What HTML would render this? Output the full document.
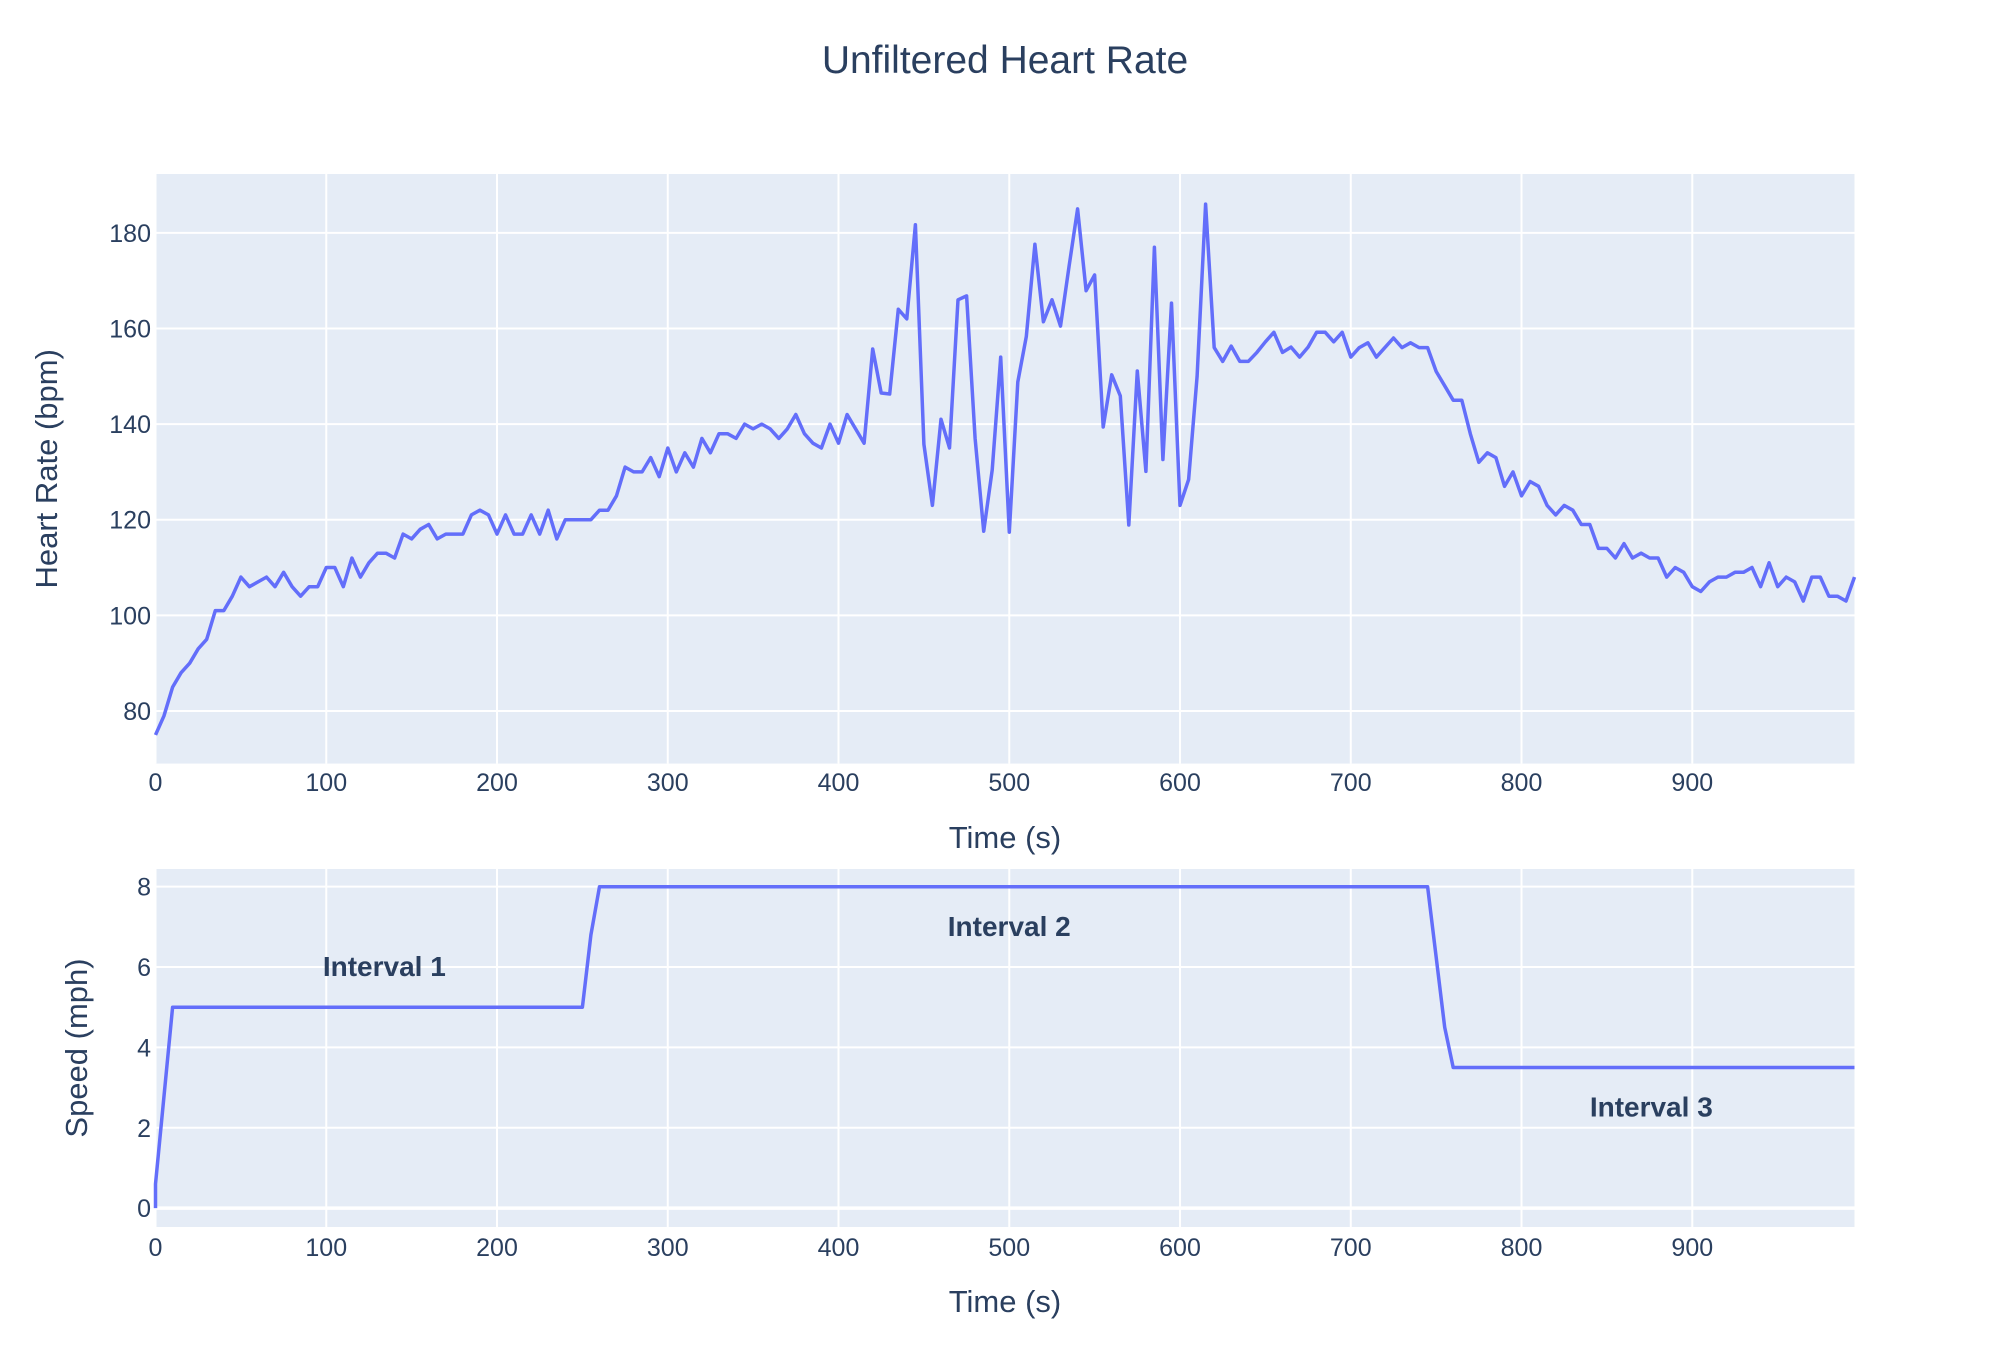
<!DOCTYPE html>
<html><head><meta charset="utf-8"><title>Unfiltered Heart Rate</title>
<style>
html,body{margin:0;padding:0;background:#fff;}
svg{display:block;font-family:"Liberation Sans",sans-serif;}
</style></head>
<body>
<svg id="chart" width="2014" height="1361" viewBox="0 0 2014 1361" xmlns="http://www.w3.org/2000/svg">
<rect x="0" y="0" width="2014" height="1361" fill="#fff"/>
<text x="1005" y="73" text-anchor="middle" font-size="39" fill="#2a3f5f">Unfiltered Heart Rate</text>
<g id="hr-plot"></g>
<g id="sp-plot"></g>
</svg>
<script>
const hrStart = 0;
const hrStep = 5;
const hrValues = [75,79,85,88,90,93,95,101,101,104,108,106,107,108,106,109,106,104,106,106,
110,110,106,112,108,111,113,113,112,117,116,118,119,116,117,117,117,121,122,121,
117,121,117,117,121,117,122,116,120,120,120,120,122,122,125,131,130,130,133,129,
135,130,134,131,137,134,138,138,137,140,139,140,139,137,139,142,138,136,135,140,
136,142,139,136,155.7,146.5,146.3,164,162,181.7,135.8,123,141,135,166,166.8,137,117.6,130.4,154,
117.4,148.8,158.3,177.6,161.4,166,160.5,172.9,185,167.9,171.2,139.4,150.3,145.9,118.9,151.1,130.1,177,132.6,165.3,
123,128.4,150,186,156,153.1,156.3,153.1,153.1,155,157.2,159.2,155,156.1,154,156.1,159.2,159.2,157.2,159.2,
154,156,157,154,156,158,156,157,156,156,151,148,145,145,138,132,134,133,127,130,
125,128,127,123,121,123,122,119,119,114,114,112,115,112,113,112,112,108,110,109,
106,105,107,108,108,109,109,110,106,111,106,108,107,103,108,108,104,104,103,108];
const hrYTicks = [80,100,120,140,160,180];
const xTicks = [0,100,200,300,400,500,600,700,800,900];
const spTimes = [0,0,10,250,255,260,745,755,760,995];
const spValues = [0,0.6,5,5,6.8,8,8,4.5,3.5,3.5];
const spYTicks = [0,2,4,6,8];
const annoText = ["Interval 1","Interval 2","Interval 3"];
const annoX = [134,500,876];
const annoY = [6,7,2.5];

const NS = "http://www.w3.org/2000/svg";
function mk(tag, attrs, parent){
  const e = document.createElementNS(NS, tag);
  for (const k in attrs) e.setAttribute(k, attrs[k]);
  parent.appendChild(e);
  return e;
}
const X0 = 155.5, X1 = 1854.5, XMIN = 0, XMAX = 995;
function sx(t){ return X0 + (t - XMIN) / (XMAX - XMIN) * (X1 - X0); }

function drawPanel(g, top, bottom, yMin, yMax, yTicks, xLabelY, xTitleY, yTitle, yTitleX, zeroLine){
  const sy = v => bottom - (v - yMin) / (yMax - yMin) * (bottom - top);
  const bg = mk('rect', {x:X0, y:top, width:X1-X0, height:bottom-top, fill:'#e5ecf6'}, g);
  
  
  xTicks.forEach(t => {
    const l = mk('line', {x1:sx(t), x2:sx(t), y1:top, y2:bottom, stroke:'#fff', 'stroke-width':2}, g);
    
    
    const tx = mk('text', {x:sx(t), y:xLabelY, 'text-anchor':'middle', 'font-size':25, fill:'#2a3f5f'}, g);
    tx.textContent = t;
    
    
  });
  yTicks.forEach(v => {
    const w = (zeroLine && v === 0) ? 3.5 : 2;
    const l = mk('line', {x1:X0, x2:X1, y1:sy(v), y2:sy(v), stroke:'#fff', 'stroke-width':w}, g);
    
    
    const tx = mk('text', {x:151, y:sy(v)+9, 'text-anchor':'end', 'font-size':25, fill:'#2a3f5f'}, g);
    tx.textContent = v;
    
    
  });
  const xt = mk('text', {x:(X0+X1)/2, y:xTitleY, 'text-anchor':'middle', 'font-size':31, fill:'#2a3f5f'}, g);
  xt.textContent = 'Time (s)';
  
  
  const cy = (top+bottom)/2;
  const yt = mk('text', {x:yTitleX, y:cy, 'text-anchor':'middle', 'font-size':31, fill:'#2a3f5f', transform:`rotate(-90 ${yTitleX} ${cy})`}, g);
  yt.textContent = yTitle;
  
  
  return sy;
}

// Heart rate panel
const hrG = document.getElementById('hr-plot');
const hsy = drawPanel(hrG, 174, 763.6, 69, 192.3, hrYTicks, 791, 848, 'Heart Rate (bpm)', 57, false);
const hrPts = hrValues.map((v,i) => sx(hrStart + i*hrStep).toFixed(1) + ',' + hsy(v).toFixed(1)).join(' ');
const hrLine = mk('polyline', {points:hrPts, fill:'none', stroke:'#636efa', 'stroke-width':3.5, 'stroke-linejoin':'round'}, hrG);



// Speed panel
const spG = document.getElementById('sp-plot');
const ssy = drawPanel(spG, 869, 1227, -0.47, 8.44, spYTicks, 1256, 1312, 'Speed (mph)', 87, true);
const spPts = spTimes.map((t,i) => sx(t).toFixed(1) + ',' + ssy(spValues[i]).toFixed(1)).join(' ');
const spLine = mk('polyline', {points:spPts, fill:'none', stroke:'#636efa', 'stroke-width':3.5, 'stroke-linejoin':'round'}, spG);


annoText.forEach((s,i) => {
  const a = mk('text', {x:sx(annoX[i]), y:ssy(annoY[i])+9, 'text-anchor':'middle', 'font-size':28, 'font-weight':'bold', fill:'#2a3f5f'}, spG);
  a.textContent = s;
  
  
});
</script>
</body></html>
